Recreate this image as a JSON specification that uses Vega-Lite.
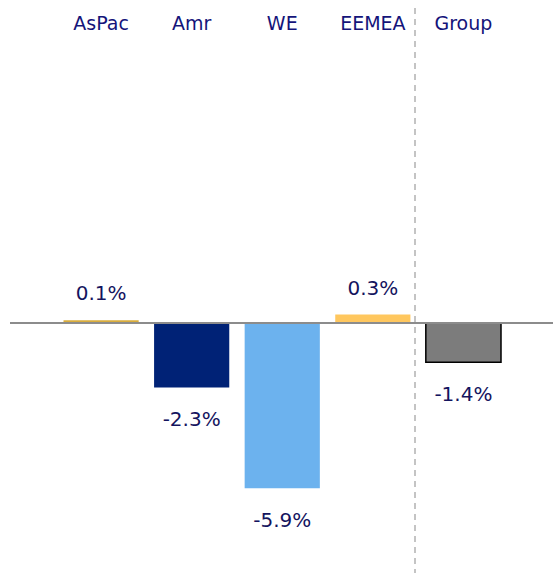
{
  "$schema": "https://vega.github.io/schema/vega-lite/v6.json",
  "width": 543,
  "height": 528,
  "padding": {"left": 10, "top": 45, "right": 0, "bottom": 0},
  "autosize": {"type": "none"},
  "background": "white",
  "config": {"view": {"stroke": null}, "font": "DejaVu Sans"},
  "data": {
    "values": [
      {"region": "AsPac", "value": 0.1, "label": "0.1%", "color": "#d9ad3c"},
      {"region": "Amr", "value": -2.3, "label": "-2.3%", "color": "#002276"},
      {"region": "WE", "value": -5.9, "label": "-5.9%", "color": "#6cb2ee"},
      {"region": "EEMEA", "value": 0.3, "label": "0.3%", "color": "#ffc75e"},
      {"region": "Group", "value": -1.4, "label": "-1.4%", "color": "#7c7c7c"}
    ]
  },
  "encoding": {
    "x": {
      "field": "region",
      "type": "nominal",
      "sort": null,
      "scale": {"range": [53.5, 491], "paddingInner": 0.17, "paddingOuter": 0},
      "axis": {
        "orient": "top",
        "title": null,
        "domain": false,
        "ticks": false,
        "labelAngle": 0,
        "labelFontSize": 19,
        "labelColor": "#14147a",
        "labelPadding": 12
      }
    }
  },
  "layer": [
    {
      "mark": {"type": "bar", "strokeWidth": 0},
      "transform": [{"filter": "datum.region != 'Group'"}],
      "encoding": {
        "y": {
          "field": "value",
          "type": "quantitative",
          "scale": {"domain": [-8.93, 9.93], "nice": false, "zero": false},
          "axis": null
        },
        "color": {"field": "color", "type": "nominal", "scale": null}
      }
    },
    {
      "mark": {"type": "bar", "stroke": "#000000", "strokeWidth": 1.5},
      "transform": [{"filter": "datum.region == 'Group'"}],
      "encoding": {
        "y": {"field": "value", "type": "quantitative"},
        "color": {"field": "color", "type": "nominal", "scale": null}
      }
    },
    {
      "mark": {"type": "rule", "color": "#8c8c8c", "strokeWidth": 2},
      "encoding": {"y": {"datum": 0}, "x": null}
    },
    {
      "mark": {"type": "rule", "color": "#c4c4c4", "strokeWidth": 1.5, "strokeDash": [6, 5], "xOffset": -11, "clip": false},
      "encoding": {
        "x": {"datum": "Group", "bandPosition": 0},
        "y": {"datum": 11.25},
        "y2": {"datum": -8.93}
      }
    },
    {
      "mark": {"type": "text", "fontSize": 20, "color": "#14145e", "dy": -26},
      "transform": [{"filter": "datum.value > 0"}],
      "encoding": {
        "y": {"field": "value", "type": "quantitative"},
        "text": {"field": "label"}
      }
    },
    {
      "mark": {"type": "text", "fontSize": 20, "color": "#14145e", "dy": 33},
      "transform": [{"filter": "datum.value < 0"}],
      "encoding": {
        "y": {"field": "value", "type": "quantitative"},
        "text": {"field": "label"}
      }
    }
  ]
}
